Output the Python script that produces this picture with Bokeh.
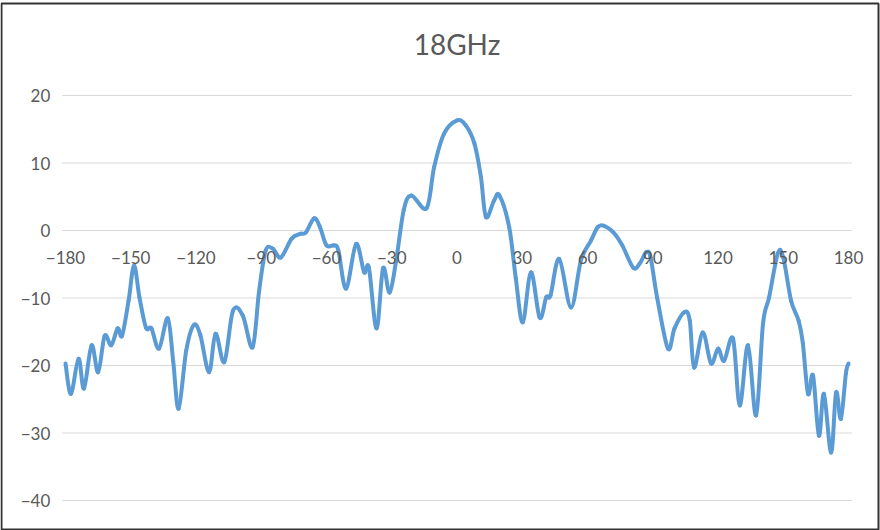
from bokeh.plotting import figure
from bokeh.models import LinearAxis, FixedTicker, Label, BoxAnnotation, ColumnDataSource
from bokeh.embed import file_html
from bokeh.resources import INLINE

title_text = "18GHz"
x_ticks = [-180, -150, -120, -90, -60, -30, 0, 30, 60, 90, 120, 150, 180]
y_ticks = [-40, -30, -20, -10, 0, 10, 20]

angle = [-180, -177.5, -174, -171.5, -168, -165, -162, -159, -156, -154, -151, -148.5,
         -146, -143, -140.5, -137, -133, -130.5, -128, -124.5, -121, -118, -114, -111,
         -107, -103, -98.5, -94, -91, -88, -84.6, -81, -76, -72, -69.5, -65.7, -63, -60,
         -56.5, -54.5, -51, -46.4, -42.7, -40.5, -37, -34, -31, -28, -24.5, -21, -14,
         -10.5, -6, 0, 4, 8, 11, 13.3, 17, 19.5, 24, 27, 30.2, 34, 38, 41, 43, 47, 52.4,
         57, 61.6, 64.7, 67.6, 72, 76, 81, 84, 87, 89, 92, 97, 100, 104.5, 107, 109, 113,
         116.8, 120, 122.8, 126.9, 130, 133.8, 137.5, 140.7, 143.5, 147.5, 150, 153.6,
         157, 159, 161.4, 163.7, 166.4, 168.7, 172, 174.3, 176.5, 178.8, 180]
gain = [-19.7, -24.2, -19, -23.4, -17, -21, -15.6, -17, -14.5, -15.6, -10.4, -5.2,
        -9.9, -14.4, -14.5, -17.5, -13, -19.3, -26.4, -17.8, -14, -15.5, -21, -15.3,
        -19.5, -11.9, -12.6, -17.3, -9, -3, -2.7, -4, -1.2, -0.5, -0.3, 1.8, 0.5, -2.2,
        -2.2, -3, -8.6, -2, -6.2, -5.5, -14.5, -5.6, -9.2, -4.5, 3, 5.2, 3.3,
        9.4, 14.3, 16.3, 15.6, 12.9, 7.9, 2, 4.4, 5.2, 0.5, -7, -13.6, -6.2, -12.9, -9.9, -9.6, -4.2, -11.4,
        -4.4, -1.5, 0.5, 0.7, -0.3, -2.2, -5.5, -4.9, -3.2, -4, -9.9, -17.5, -14.5, -12.1, -13.3, -20.3, -15.1,
        -19.7, -17.5, -19.3, -16, -25.9, -17, -27.4, -13.8, -9.9, -3.4, -4, -10.4,
        -13.3, -16.7, -24.2, -21.5, -30.4, -24.2, -32.9, -24, -27.9, -21.2, -19.7]

FONT = "Lato"
GREY = "#595959"
LINE = "#5B9BD5"

# frame covers whole canvas; data mapping: 2.175 px/deg, 6.75 px/unit
W, H = 880, 530
x0_px, sx = 65, 2.175
y20_px, sy = 95, 6.75
x_lo = -180 - x0_px / sx
x_hi = x_lo + W / sx
y_hi = 20 + y20_px / sy
y_lo = y_hi - H / sy

p = figure(width=W, height=H, output_backend="svg", toolbar_location=None,
           x_range=(x_lo, x_hi), y_range=(y_lo, y_hi),
           x_axis_location=None, y_axis_location=None,
           min_border=0)
p.outline_line_color = None
p.background_fill_color = "white"
p.border_fill_color = "white"
p.xgrid.visible = False
p.ygrid.visible = False

g_lo, g_hi = -181.5, 181.5

# horizontal gridlines, one per y tick
p.segment(x0=[g_lo] * len(y_ticks), x1=[g_hi] * len(y_ticks), y0=y_ticks, y1=y_ticks,
          line_color="#d9d9d9", line_width=1)

# y axis at the left end of the gridlines
yax = LinearAxis(fixed_location=g_lo, ticker=FixedTicker(ticks=y_ticks))
yax.axis_line_color = None
yax.major_tick_line_color = None
yax.minor_tick_line_color = None
yax.major_tick_out = 0
yax.major_label_text_font = FONT
yax.major_label_text_font_size = "17px"
yax.major_label_text_color = GREY
yax.major_label_standoff = 12
p.add_layout(yax, "left")

# x axis crossing at y = 0
xax = LinearAxis(fixed_location=0, ticker=FixedTicker(ticks=x_ticks))
xax.axis_line_color = None
xax.major_tick_line_color = None
xax.minor_tick_line_color = None
xax.major_tick_out = 0
xax.major_label_text_font = FONT
xax.major_label_text_font_size = "17px"
xax.major_label_text_color = GREY
xax.major_label_standoff = 20
p.add_layout(xax, "below")

# smooth curve (Catmull-Rom style Bezier segments through the data points)
n = len(angle)
bx0, by0, bx1, by1, cx0, cy0, cx1, cy1 = [], [], [], [], [], [], [], []
for i in range(n - 1):
    xa, ya = angle[i], gain[i]
    xb, yb = angle[i + 1], gain[i + 1]
    xp, yp = (angle[i - 1], gain[i - 1]) if i > 0 else (xa, ya)
    xn, yn = (angle[i + 2], gain[i + 2]) if i + 2 < n else (xb, yb)
    bx0.append(xa); by0.append(ya); bx1.append(xb); by1.append(yb)
    cx0.append(xa + (xb - xp) / 6); cy0.append(ya + (yb - yp) / 6)
    cx1.append(xb - (xn - xa) / 6); cy1.append(yb - (yn - ya) / 6)
bsrc = ColumnDataSource(data=dict(x0=bx0, y0=by0, x1=bx1, y1=by1,
                                  cx0=cx0, cy0=cy0, cx1=cx1, cy1=cy1))
p.bezier(x0="x0", y0="y0", x1="x1", y1="y1", cx0="cx0", cy0="cy0", cx1="cx1", cy1="cy1",
         source=bsrc, line_color=LINE, line_width=4, line_cap="round")

p.add_layout(Label(x=0, y=20 + (y20_px - 43) / sy, text=title_text, text_align="center",
                   text_baseline="middle", text_font=FONT,
                   text_font_size="28px", text_color=GREY))

p.add_layout(BoxAnnotation(left=1, right=W - 2, top=1, bottom=H - 3,
                           left_units="screen", right_units="screen",
                           top_units="screen", bottom_units="screen",
                           fill_alpha=0, line_alpha=1, line_color="#333333", line_width=2))

open("out.html", "w").write(file_html(p, INLINE))
